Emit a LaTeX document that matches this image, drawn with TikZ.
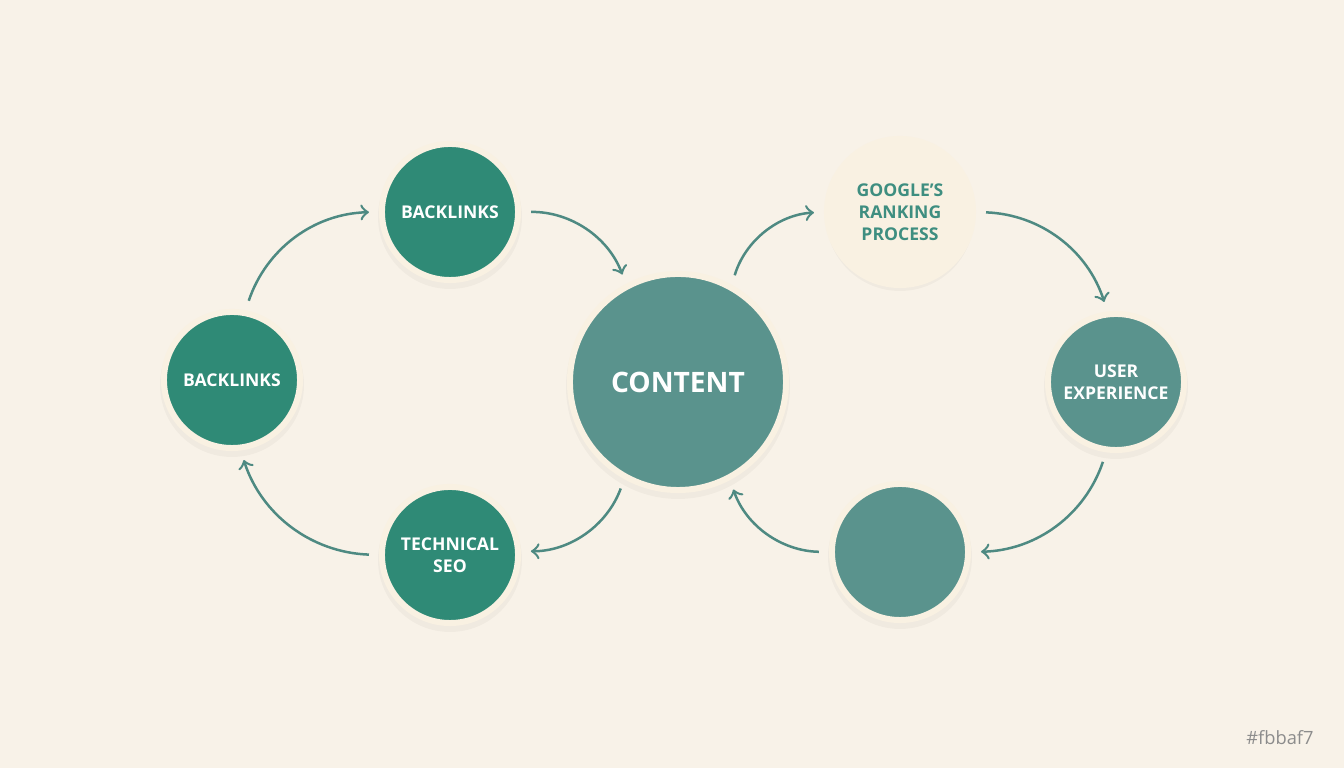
\documentclass[tikz,border=0pt]{standalone}
\usepackage{fontspec}
\setmainfont{Open Sans}
\usetikzlibrary{positioning}
\definecolor{bgcream}{HTML}{F8F2E8}
\definecolor{ringcream}{HTML}{F9F1E2}
\definecolor{deepteal}{HTML}{2F8A76}
\definecolor{greyteal}{HTML}{5A938D}
\definecolor{paleteal}{HTML}{3E8E80}
\definecolor{arrowteal}{HTML}{4E8A82}
\tikzset{
  hub/.style={circle, draw=ringcream, line width=0.06cm, text=white,
    font=\bfseries\fontsize{5}{6.2}\selectfont, align=center, inner sep=0pt},
  dark/.style={hub, fill=deepteal, minimum size=1.36cm},
  soft/.style={hub, fill=greyteal, minimum size=1.36cm},
  flow/.style={->, draw=arrowteal, line width=0.025cm, shorten <=0.1cm, shorten >=0.1cm, bend left=35},
  haze/.style={fill=black, opacity=0.03}
}
\begin{document}
\begin{tikzpicture}[x=0.01cm,y=-0.01cm,>=to]
  \fill[bgcream] (0,0) rectangle (1344,768);
  \useasboundingbox (0,0) rectangle (1344,768);
  % shadows
  \foreach \cx/\cy/\r in {450/212/72, 232/380/72, 450/555/72, 678/382/112, 900/212/74, 1116/382/72, 900/552/72}
    \fill[haze] (\cx,\cy+5) circle (\r);
  % nodes
  \node[dark] (blTop) at (450,212) {BACKLINKS};
  \node[dark] (blLeft) at (232,380) {BACKLINKS};
  \node[dark] (tech) at (450,555) {TECHNICAL\\SEO};
  \node[soft, minimum size=2.16cm, font=\bfseries\fontsize{8}{10}\selectfont] (content) at (678,382) {CONTENT};
  \node[hub, fill=ringcream, text=paleteal, minimum size=1.46cm] (google) at (900,212) {GOOGLE'S\\RANKING\\PROCESS};
  \node[soft] (ux) at (1116,382) {USER\\EXPERIENCE};
  \node[soft] (blank) at (900,552) {};
  % left loop
  \draw[flow] (blLeft.79) to (blTop.180);
  \draw[flow] (blTop.0) to (content.118);
  \draw[flow] (content.241) to (tech.3);
  \draw[flow] (tech.180) to (blLeft.277);
  % right loop
  \draw[flow] (content.61) to (google.180);
  \draw[flow] (google.0) to (ux.97);
  \draw[flow] (ux.262) to (blank.0);
  \draw[flow] (blank.180) to (content.298);
  \node[text=black!45, font=\fontsize{5.2}{6}\selectfont, anchor=east] (tag) at (1326,738) {\#fbbaf7};
\end{tikzpicture}
\end{document}
